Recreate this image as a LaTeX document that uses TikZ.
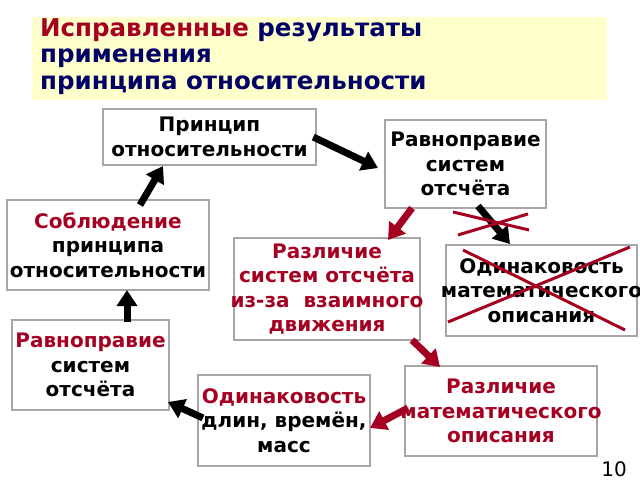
\documentclass[tikz,border=0pt]{standalone}
\usepackage{fontspec}
\setmainfont{DejaVu Sans}
\usetikzlibrary{arrows.meta}
\definecolor{dred}{HTML}{A50021}
\definecolor{dblue}{HTML}{000066}
\definecolor{ttl}{HTML}{FFFFCC}
\begin{document}
\begin{tikzpicture}[x=1pt,y=-1pt,
  box/.style={draw=gray!70,line width=2.5pt,fill=white,inner sep=0pt},
  txt/.style={align=center,font=\bfseries\fontsize{20}{24.5}\selectfont,inner sep=0pt},
  blk/.style={line width=7pt,-{Triangle[length=16pt,width=20pt]}},
  rarr/.style={blk,dred},
  cross/.style={dred,line width=3pt}]
\useasboundingbox (0,0) rectangle (640,480);
\fill[ttl] (32,17) rectangle (607,100);
\node[anchor=north west,align=left,text=dblue,font=\bfseries\fontsize{24.5}{26.5}\selectfont,inner sep=0pt] (title) at (40,18) {\textcolor{dred}{Исправленные} результаты\\применения\\принципа относительности};
\node[box,minimum width=213pt,minimum height=56pt] (p) at (209.5,137) {};
\node[txt] (pt) at (p) {Принцип\\относительности};
\node[box,minimum width=161pt,minimum height=88pt] (r1) at (465.5,164) {};
\node[txt] (r1t) at (r1) {Равноправие\\систем\\отсчёта};
\node[box,minimum width=202pt,minimum height=90pt] (s) at (108,245) {};
\node[txt] (st) at (s) {\textcolor{dred}{Соблюдение}\\принципа\\относительности};
\node[box,minimum width=186pt,minimum height=102pt] (d1) at (327,289) {};
\node[txt,text=dred] (d1t) at (d1) {Различие\\систем отсчёта\\из-за\ \ взаимного\\движения};
\node[box,minimum width=191pt,minimum height=91pt] (o1) at (541.5,290.5) {};
\node[txt] (o1t) at (o1) {Одинаковость\\математического\\описания};
\node[box,minimum width=157pt,minimum height=90pt] (r2) at (90.5,365) {};
\node[txt] (r2t) at (r2) {\textcolor{dred}{Равноправие}\\систем\\отсчёта};
\node[box,minimum width=192pt,minimum height=90pt] (d2) at (501,411) {};
\node[txt,text=dred] (d2t) at (d2) {Различие\\математического\\описания};
\node[box,minimum width=172pt,minimum height=91pt] (o2) at (284,420.5) {};
\node[txt] (o2t) at (o2) {\textcolor{dred}{Одинаковость}\\длин, времён,\\масс};
\node[font=\fontsize{20}{20}\selectfont,anchor=north] (pg) at (614,458) {10};
\draw[blk] (p.east)++(-4,0) -- (378,168);
\draw[rarr] (412,208) -- (388,240);
\draw[blk] (478,206) -- (510,244);
\draw[cross] (453,212) -- (529,230);
\draw[cross] (458,235) -- (528,214);
\draw[cross] (448,322) -- (630,247);
\draw[cross] (463,250) -- (625,330);
\draw[rarr] (412,340) -- (440,367);
\draw[rarr] (408,408) -- (370,428);
\draw[blk] (203,418) -- (168,402);
\draw[blk] (127,322) -- (127,290);
\draw[blk] (140,205) -- (163,166);
\end{tikzpicture}
\end{document}
